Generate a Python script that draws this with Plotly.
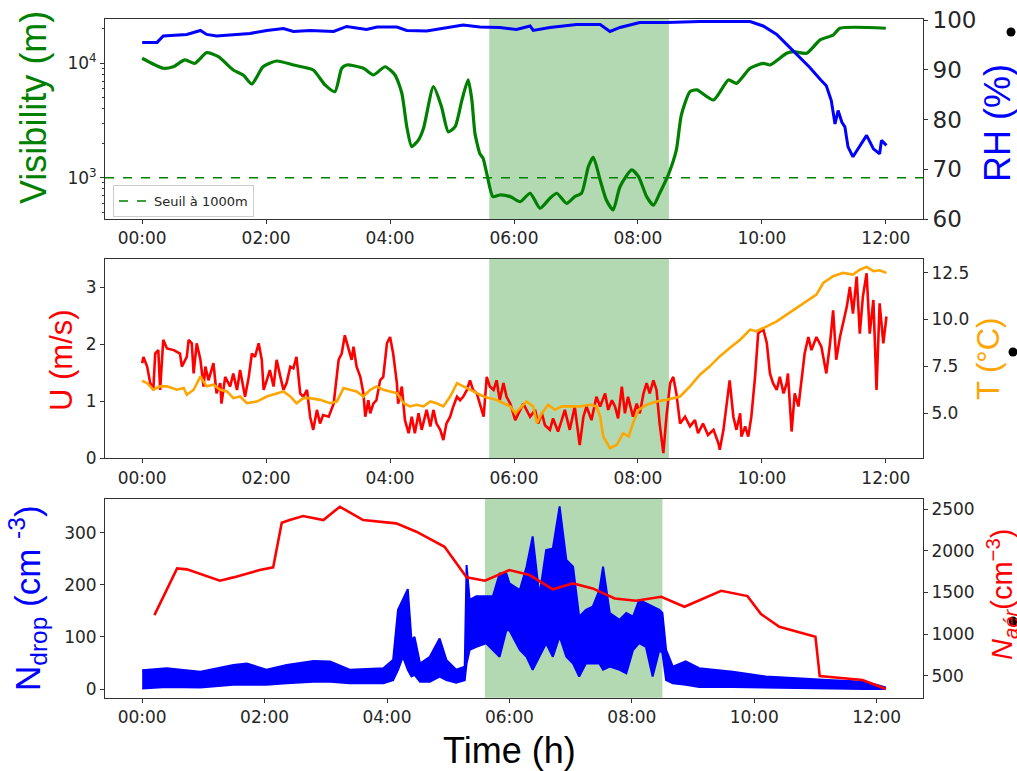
import plotly.graph_objects as go

# ---------------- data ----------------
# fog episode (hours)
FOG_START = 5.6
FOG_END = 8.5
VIS_THRESHOLD = 1000

hour_ticks = [0, 2, 4, 6, 8, 10, 12]
hour_labels = ["00:00", "02:00", "04:00", "06:00", "08:00", "10:00", "12:00"]

# visibility (m)
vis_h = [0.00, 0.34, 0.50, 0.69, 0.85, 1.04, 1.23, 1.47, 1.63, 1.77, 1.95, 2.17, 2.44, 2.76,
         2.95, 3.11, 3.22, 3.30, 3.57, 3.73, 3.92, 4.08, 4.19, 4.27, 4.35, 4.46, 4.54, 4.70,
         4.83, 4.94, 5.05, 5.16, 5.26, 5.32, 5.37, 5.45, 5.50, 5.56, 5.66, 5.77, 5.94, 6.10,
         6.26, 6.42, 6.58, 6.69, 6.85, 6.98, 7.09, 7.20, 7.28, 7.39, 7.49, 7.60, 7.71, 7.90,
         8.01, 8.14, 8.25, 8.35, 8.49, 8.62, 8.70, 8.84, 8.95, 9.22, 9.46, 9.59, 9.81, 10.02,
         10.13, 10.40, 10.51, 10.72, 10.94, 11.15, 11.26, 12.00]
vis_m = [11060, 9040, 9330, 10690, 10000, 12380, 11420, 8740, 7900, 6590, 9330, 10470, 9660, 8740,
         6470, 5650, 9040, 9660, 9040, 7900, 9330, 7900, 5470, 2790, 1870, 2140, 2700, 6240,
         4170, 2520, 2790, 4780, 7150, 4780, 2440, 1620, 1480, 1090, 683, 706, 683, 617,
         731, 541, 661, 731, 597, 683, 731, 1250, 1510, 955, 638, 523, 834, 1170,
         1020, 683, 575, 731, 1060, 1750, 3530, 5650, 5850, 4780, 7150, 6680, 9040, 10000,
         9660, 12230, 12630, 12230, 15990, 17660, 20230, 20230]

# relative humidity (%)
rh_h = [0.00, 0.24, 0.34, 0.72, 0.94, 1.04, 1.20, 1.74, 2.01, 2.28, 2.44, 2.71, 3.09, 3.30,
        3.62, 3.79, 4.11, 4.27, 4.59, 4.86, 5.18, 5.45, 5.77, 6.04, 6.26, 6.31, 6.58, 7.01,
        7.39, 7.55, 7.71, 8.03, 8.46, 9.00, 9.81, 10.02, 10.24, 10.40, 10.61, 10.77, 10.94,
        11.04, 11.12, 11.18, 11.23, 11.29, 11.34, 11.39, 11.47, 11.55, 11.69, 11.80, 11.90,
        11.93, 12.01]
rh_pct = [95.5, 95.5, 96.8, 97.1, 97.9, 97.1, 96.8, 97.3, 97.9, 98.3, 97.7, 97.9, 97.7, 98.7,
          98.1, 98.6, 98.6, 97.9, 97.8, 98.3, 99.0, 98.6, 98.5, 98.1, 98.8, 97.9, 98.5, 99.1,
          99.1, 97.7, 98.5, 99.5, 99.5, 99.7, 99.7, 98.8, 97.1, 95.1, 92.5, 90.5, 88.1,
          86.8, 83.8, 79.1, 81.8, 79.5, 78.5, 74.5, 72.5, 74.1, 76.8, 74.1, 73.1,
          75.8, 74.8]

# wind speed U (m/s)
u_h = [0.00, 0.02, 0.08, 0.13, 0.18, 0.21, 0.26, 0.29, 0.34, 0.40, 0.51, 0.61, 0.64, 0.72, 0.75,
       0.80, 0.83, 0.88, 0.94, 0.99, 1.02, 1.07, 1.15, 1.20, 1.26, 1.28, 1.34, 1.42, 1.47, 1.53,
       1.58, 1.66, 1.72, 1.77, 1.82, 1.88, 1.93, 1.96, 2.01, 2.06, 2.12, 2.17, 2.23, 2.28, 2.33,
       2.39, 2.44, 2.49, 2.55, 2.60, 2.66, 2.71, 2.76, 2.82, 2.87, 2.92, 3.01, 3.09, 3.17, 3.22,
       3.27, 3.33, 3.38, 3.41, 3.46, 3.52, 3.57, 3.60, 3.65, 3.68, 3.73, 3.78, 3.84, 3.89, 3.95,
       4.00, 4.05, 4.11, 4.13, 4.19, 4.24, 4.30, 4.35, 4.40, 4.46, 4.51, 4.59, 4.65, 4.70, 4.75,
       4.81, 4.86, 4.91, 4.97, 5.02, 5.08, 5.13, 5.18, 5.24, 5.29, 5.34, 5.40, 5.45, 5.51, 5.56,
       5.61, 5.67, 5.72, 5.77, 5.83, 5.88, 5.94, 6.02, 6.10, 6.15, 6.26, 6.34, 6.39, 6.45, 6.50,
       6.58, 6.63, 6.71, 6.77, 6.82, 6.90, 6.98, 7.06, 7.12, 7.17, 7.25, 7.33, 7.39, 7.47, 7.52,
       7.58, 7.63, 7.68, 7.74, 7.79, 7.84, 7.92, 7.98, 8.03, 8.09, 8.14, 8.19, 8.25, 8.30, 8.35,
       8.41, 8.46, 8.52, 8.57, 8.62, 8.68, 8.76, 8.84, 8.92, 8.97, 9.05, 9.13, 9.22, 9.30, 9.32,
       9.38, 9.43, 9.48, 9.54, 9.59, 9.65, 9.67, 9.73, 9.78, 9.83, 9.89, 9.94, 10.02, 10.08,
       10.13, 10.18, 10.24, 10.29, 10.35, 10.40, 10.42, 10.48, 10.53, 10.59, 10.64, 10.69, 10.75,
       10.80, 10.88, 10.96, 11.04, 11.10, 11.15, 11.20, 11.26, 11.31, 11.37, 11.42, 11.47, 11.53,
       11.58, 11.63, 11.69, 11.74, 11.80, 11.85, 11.90, 11.96, 12.01]
u_ms = [1.67, 1.78, 1.61, 1.32, 1.20, 1.84, 1.90, 1.20, 2.08, 1.93, 1.90, 1.84, 1.61, 1.78, 2.08,
        2.02, 1.49, 2.02, 1.73, 1.26, 1.61, 1.37, 1.67, 1.14, 1.32, 0.96, 1.43, 1.26, 1.49, 1.20,
        1.55, 1.08, 1.43, 1.84, 1.78, 2.02, 1.73, 1.20, 1.37, 1.55, 1.26, 1.73, 1.43, 1.20, 1.32,
        1.61, 1.58, 1.78, 1.14, 1.08, 1.20, 0.73, 0.50, 0.85, 0.61, 0.76, 0.73, 0.96, 1.73, 1.84,
        2.16, 1.90, 1.73, 1.96, 1.61, 1.43, 1.14, 0.73, 1.02, 0.79, 0.96, 1.02, 1.37, 1.43, 2.02,
        2.13, 1.84, 1.32, 0.96, 1.26, 0.67, 0.44, 0.73, 0.44, 0.79, 0.50, 0.85, 0.56, 0.85, 0.61,
        0.50, 0.32, 0.61, 0.73, 0.91, 1.08, 1.02, 1.08, 1.20, 1.37, 1.20, 1.14, 0.96, 0.73, 1.43,
        1.26, 1.20, 1.37, 1.02, 1.32, 1.08, 0.96, 0.67, 0.85, 0.96, 0.73, 0.85, 0.61, 0.79, 0.58,
        0.50, 0.70, 0.47, 0.67, 0.85, 0.50, 0.91, 0.23, 0.73, 0.91, 0.67, 1.08, 0.91, 1.14, 0.85,
        1.02, 0.91, 0.70, 1.26, 0.79, 1.08, 0.73, 0.96, 0.79, 1.14, 1.32, 1.14, 1.37, 1.20, 0.61,
        0.09, 0.73, 1.32, 1.43, 1.14, 0.61, 0.73, 0.56, 0.67, 0.44, 0.61, 0.41, 0.50, 0.26, 0.15,
        0.50, 0.91, 1.37, 0.73, 0.50, 0.79, 0.38, 0.56, 0.38, 0.73, 1.43, 2.19, 2.28, 2.02,
        1.49, 1.32, 1.20, 1.43, 1.14, 1.32, 1.49, 0.47, 1.14, 0.91, 1.43, 1.84, 2.13,
        1.90, 2.13, 1.96, 1.49, 2.02, 2.60, 1.73, 2.13, 2.37, 2.66, 3.01, 2.54, 3.19,
        2.19, 2.84, 3.25, 2.19, 2.78, 1.20, 2.72, 2.02, 2.49]

# temperature T (degC)
t_h = [0.00, 0.08, 0.18, 0.29, 0.40, 0.56, 0.67, 0.72, 0.83, 0.94, 1.04, 1.15, 1.26, 1.37, 1.47,
       1.58, 1.69, 1.85, 2.01, 2.17, 2.28, 2.39, 2.49, 2.60, 2.71, 2.87, 3.03, 3.14, 3.25, 3.35,
       3.46, 3.57, 3.68, 3.78, 3.89, 4.00, 4.11, 4.22, 4.32, 4.43, 4.54, 4.65, 4.75, 4.86, 4.97,
       5.08, 5.18, 5.29, 5.40, 5.51, 5.61, 5.72, 5.83, 5.94, 6.02, 6.10, 6.20, 6.31, 6.37, 6.45,
       6.55, 6.66, 6.77, 6.90, 7.06, 7.23, 7.33, 7.39, 7.44, 7.55, 7.66, 7.76, 7.85, 7.92, 8.01,
       8.14, 8.30, 8.46, 8.68, 8.84, 9.00, 9.16, 9.32, 9.48, 9.65, 9.81, 9.91, 10.08, 10.24,
       10.40, 10.56, 10.72, 10.88, 10.99, 11.15, 11.31, 11.47, 11.58, 11.69, 11.80, 11.90, 12.01]
t_c = [6.73, 6.60, 6.25, 6.43, 6.43, 6.25, 6.34, 5.98, 6.25, 6.96, 6.43, 6.52, 6.25, 6.16, 5.80,
       5.89, 5.53, 5.62, 5.89, 6.07, 6.16, 5.89, 5.53, 5.80, 5.80, 5.71, 5.53, 5.62, 6.34, 6.25,
       6.16, 5.89, 6.25, 6.43, 6.25, 6.16, 6.07, 5.53, 5.36, 5.45, 5.36, 5.62, 5.53, 5.36, 5.89,
       6.60, 6.43, 6.25, 6.07, 5.89, 5.80, 5.71, 5.53, 5.36, 5.00, 5.27, 5.62, 5.36, 4.47, 5.00,
       5.45, 5.18, 5.36, 5.36, 5.36, 5.45, 5.36, 4.82, 3.75, 3.13, 3.31, 3.93, 3.75, 4.47, 5.18,
       5.45, 5.62, 5.71, 5.89, 6.43, 7.05, 7.50, 8.03, 8.48, 8.92, 9.46, 9.37, 9.63, 9.90,
       10.26, 10.61, 10.97, 11.33, 11.95, 12.31, 12.49, 12.40, 12.66, 12.81, 12.58, 12.63, 12.49]

# droplet number concentration N_drop (cm-3): band between low and high values
nd_h = [0.00, 0.40, 0.95, 1.49, 1.71, 2.03, 2.36, 2.80, 3.07, 3.39, 3.94, 4.10, 4.18, 4.26, 4.34,
        4.40, 4.45, 4.54, 4.70, 4.86, 4.97, 5.13, 5.27, 5.30, 5.35, 5.46, 5.62, 5.73, 5.84, 5.95,
        6.00, 6.17, 6.28, 6.38, 6.49, 6.60, 6.71, 6.82, 6.93, 7.04, 7.14, 7.25, 7.36, 7.47, 7.53,
        7.64, 7.80, 7.91, 8.02, 8.12, 8.23, 8.34, 8.45, 8.50, 8.56, 8.67, 8.88, 9.10, 9.65, 10.19,
        10.73, 11.28, 11.82, 12.15]
nd_high = [36, 40, 33, 46, 49, 37, 46, 54, 53, 37, 40, 56, 152, 171, 192,
           94, 100, 49, 62, 97, 56, 37, 43, 238, 171, 178, 178, 178, 222, 222,
           203, 190, 235, 293, 179, 267, 270, 351, 248, 235, 139, 152, 158, 190, 235,
           146, 133, 146, 139, 171, 165, 158, 152, 146, 75, 43, 53, 40, 33, 24,
           20, 17, 14, 3]
nd_low = [1, 4, 3, 8, 8, 8, 11, 14, 14, 11, 11, 17, 37, 62, 37,
          24, 27, 14, 14, 24, 17, 12, 17, 49, 75, 81, 88, 75, 62, 113,
          113, 75, 62, 37, 62, 88, 62, 101, 62, 49, 24, 49, 49, 49, 37,
          43, 37, 30, 75, 88, 81, 24, 75, 69, 17, 11, 8, 4, 4, 3,
          1, 1, 0, 0]

# aerosol number concentration N_aer (cm-3)
na_h = [0.20, 0.57, 0.73, 1.27, 1.49, 1.92, 2.14, 2.28, 2.41, 2.63, 2.96, 3.23, 3.61, 4.15, 4.48,
        4.94, 5.30, 5.60, 6.00, 6.33, 6.71, 7.04, 7.36, 7.72, 8.07, 8.48, 8.86, 9.46, 9.89, 10.11,
        10.41, 11.00, 11.07, 11.77, 12.15]
na_cm3 = [1229, 1790, 1778, 1642, 1682, 1770, 1802, 2339, 2371, 2419, 2371, 2531, 2371, 2331, 2231,
          2050, 1682, 1642, 1770, 1710, 1538, 1610, 1550, 1429, 1401, 1449, 1329, 1521, 1457, 1241,
          1089, 969, 496, 448, 340]

# ---------------- styling ----------------
GREEN = "#008000"
BLUE = "#0000ff"
RED = "#ff0000"
ORANGE = "#ffa500"
FOG_FILL = "rgba(0,128,0,0.3)"
TICK_FONT = dict(family="DejaVu Sans", size=17, color="#262626")
LABEL_FAMILY = "Liberation Sans, Arial, sans-serif"

W, H = 1017, 771
X_DOM = [105 / W, 923 / W]
P1 = [1 - 219 / H, 1 - 19 / H]
P2 = [1 - 458.3 / H, 1 - 259 / H]
P3 = [1 - 697.7 / H, 1 - 499 / H]

fig = go.Figure()

# panel 1: visibility + RH
fig.add_trace(go.Scatter(x=[-0.6, 12.6], y=[VIS_THRESHOLD, VIS_THRESHOLD], mode="lines",
                         line=dict(color=GREEN, width=1.5, dash="dash"),
                         name="Seuil à 1000m", xaxis="x", yaxis="y", showlegend=True))
fig.add_trace(go.Scatter(x=vis_h, y=vis_m, mode="lines",
                         line=dict(color=GREEN, width=3.2, shape="spline", smoothing=0.6),
                         xaxis="x", yaxis="y", showlegend=False))
fig.add_trace(go.Scatter(x=rh_h, y=rh_pct, mode="lines", line=dict(color=BLUE, width=3),
                         xaxis="x", yaxis="y2", showlegend=False))

# panel 2: U + T
fig.add_trace(go.Scatter(x=u_h, y=u_ms, mode="lines", line=dict(color=RED, width=2.6),
                         xaxis="x2", yaxis="y3", showlegend=False))
fig.add_trace(go.Scatter(x=t_h, y=t_c, mode="lines", line=dict(color=ORANGE, width=2.6),
                         xaxis="x2", yaxis="y4", showlegend=False))

# panel 3: N_drop band + N_aer
fig.add_trace(go.Scatter(x=nd_h, y=nd_low, mode="lines", line=dict(color=BLUE, width=2),
                         xaxis="x3", yaxis="y5", showlegend=False))
fig.add_trace(go.Scatter(x=nd_h, y=nd_high, mode="lines", line=dict(color=BLUE, width=2),
                         fill="tonexty", fillcolor=BLUE,
                         xaxis="x3", yaxis="y5", showlegend=False))
fig.add_trace(go.Scatter(x=na_h, y=na_cm3, mode="lines", line=dict(color=RED, width=2.6),
                         xaxis="x3", yaxis="y6", showlegend=False))

# fog period shading
for xr, yr in (("x", "y"), ("x2", "y3"), ("x3", "y5")):
    fig.add_shape(type="rect", xref=xr, yref=yr + " domain", x0=FOG_START, x1=FOG_END,
                  y0=0, y1=1, fillcolor=FOG_FILL, line_width=0, layer="below")

# slide bullets
for cx, cy in ((1011, 32), (1013, 352), (1013, 621)):
    r = 4.5
    fig.add_shape(type="circle", xref="paper", yref="paper",
                  x0=(cx - r) / W, x1=(cx + r) / W, y0=1 - (cy + r) / H, y1=1 - (cy - r) / H,
                  fillcolor="black", line_width=0)

axis_common = dict(showline=True, linecolor="#333333", linewidth=1, ticks="outside",
                   ticklen=4, tickcolor="#333333", showgrid=False, zeroline=False,
                   tickfont=TICK_FONT, automargin=False)

xaxis_common = dict(axis_common, domain=X_DOM, tickmode="array", tickvals=hour_ticks,
                    ticktext=hour_labels, mirror=True)

minor_vis = [500, 600, 700, 800, 900, 2000, 3000, 4000, 5000, 6000, 7000, 8000, 9000, 20000]

fig.update_layout(
    template="none",
    width=W, height=H, margin=dict(l=0, r=0, t=0, b=0, pad=0),
    paper_bgcolor="white", plot_bgcolor="white",
    xaxis=dict(xaxis_common, anchor="y", range=[-0.6, 12.6]),
    xaxis2=dict(xaxis_common, anchor="y3", range=[-0.6, 12.6]),
    xaxis3=dict(xaxis_common, anchor="y5", range=[-0.6075, 12.7575]),
    yaxis=dict(axis_common, domain=P1, type="log", range=[2.639, 4.387], anchor="x",
               tickmode="array", tickvals=[1000, 10000],
               ticktext=["10<sup>3</sup>", "10<sup>4</sup>"], mirror=True,
               minor=dict(ticks="outside", ticklen=2, tickcolor="#333333",
                          tickmode="array", tickvals=minor_vis, showgrid=False)),
    yaxis2=dict(axis_common, domain=P1, overlaying="y", side="right", anchor="x",
                range=[60, 100.2], tickvals=[60, 70, 80, 90, 100],
                tickfont=dict(TICK_FONT, size=23)),
    yaxis3=dict(axis_common, domain=P2, range=[0, 3.5], anchor="x2",
                tickvals=[0, 1, 2, 3], mirror=True),
    yaxis4=dict(axis_common, domain=P2, overlaying="y3", side="right", anchor="x2",
                range=[2.59, 13.23], tickvals=[5.0, 7.5, 10.0, 12.5], tickformat=".1f"),
    yaxis5=dict(axis_common, domain=P3, range=[-16.7, 365], anchor="x3",
                tickvals=[0, 100, 200, 300], mirror=True),
    yaxis6=dict(axis_common, domain=P3, overlaying="y5", side="right", anchor="x3",
                range=[236, 2624], tickvals=[500, 1000, 1500, 2000, 2500]),
    legend=dict(x=113 / W, y=1 - 185 / H, xanchor="left", yanchor="top",
                bgcolor="rgba(255,255,255,0.85)", bordercolor="#cccccc", borderwidth=1,
                font=dict(family="DejaVu Sans", size=13, color="#262626"),
                itemwidth=30, tracegroupgap=0),
)


def label(text, cx, cy, size, color, angle=-90):
    fig.add_annotation(text=text, x=cx / W, y=1 - cy / H, xref="paper", yref="paper",
                       xanchor="center", yanchor="middle", showarrow=False, textangle=angle,
                       font=dict(family=LABEL_FAMILY, size=size, color=color))


label("Visibility (m)", 34, 108, 36, GREEN)
label("RH (%)", 998, 123, 36, BLUE)
label("U (m/s)", 61, 360, 31, RED)
label("T (°C)", 988, 359, 31, ORANGE)
label("N<sub>drop</sub> (cm <sup>-3</sup>)", 27, 598, 35, BLUE)
label("<i>N</i><sub><i>aér</i></sub>(cm<sup>−3</sup>)", 1002, 595, 29, RED)
label("Time (h)", 510, 750, 36, "black", angle=0)

fig.write_html("out.html")
